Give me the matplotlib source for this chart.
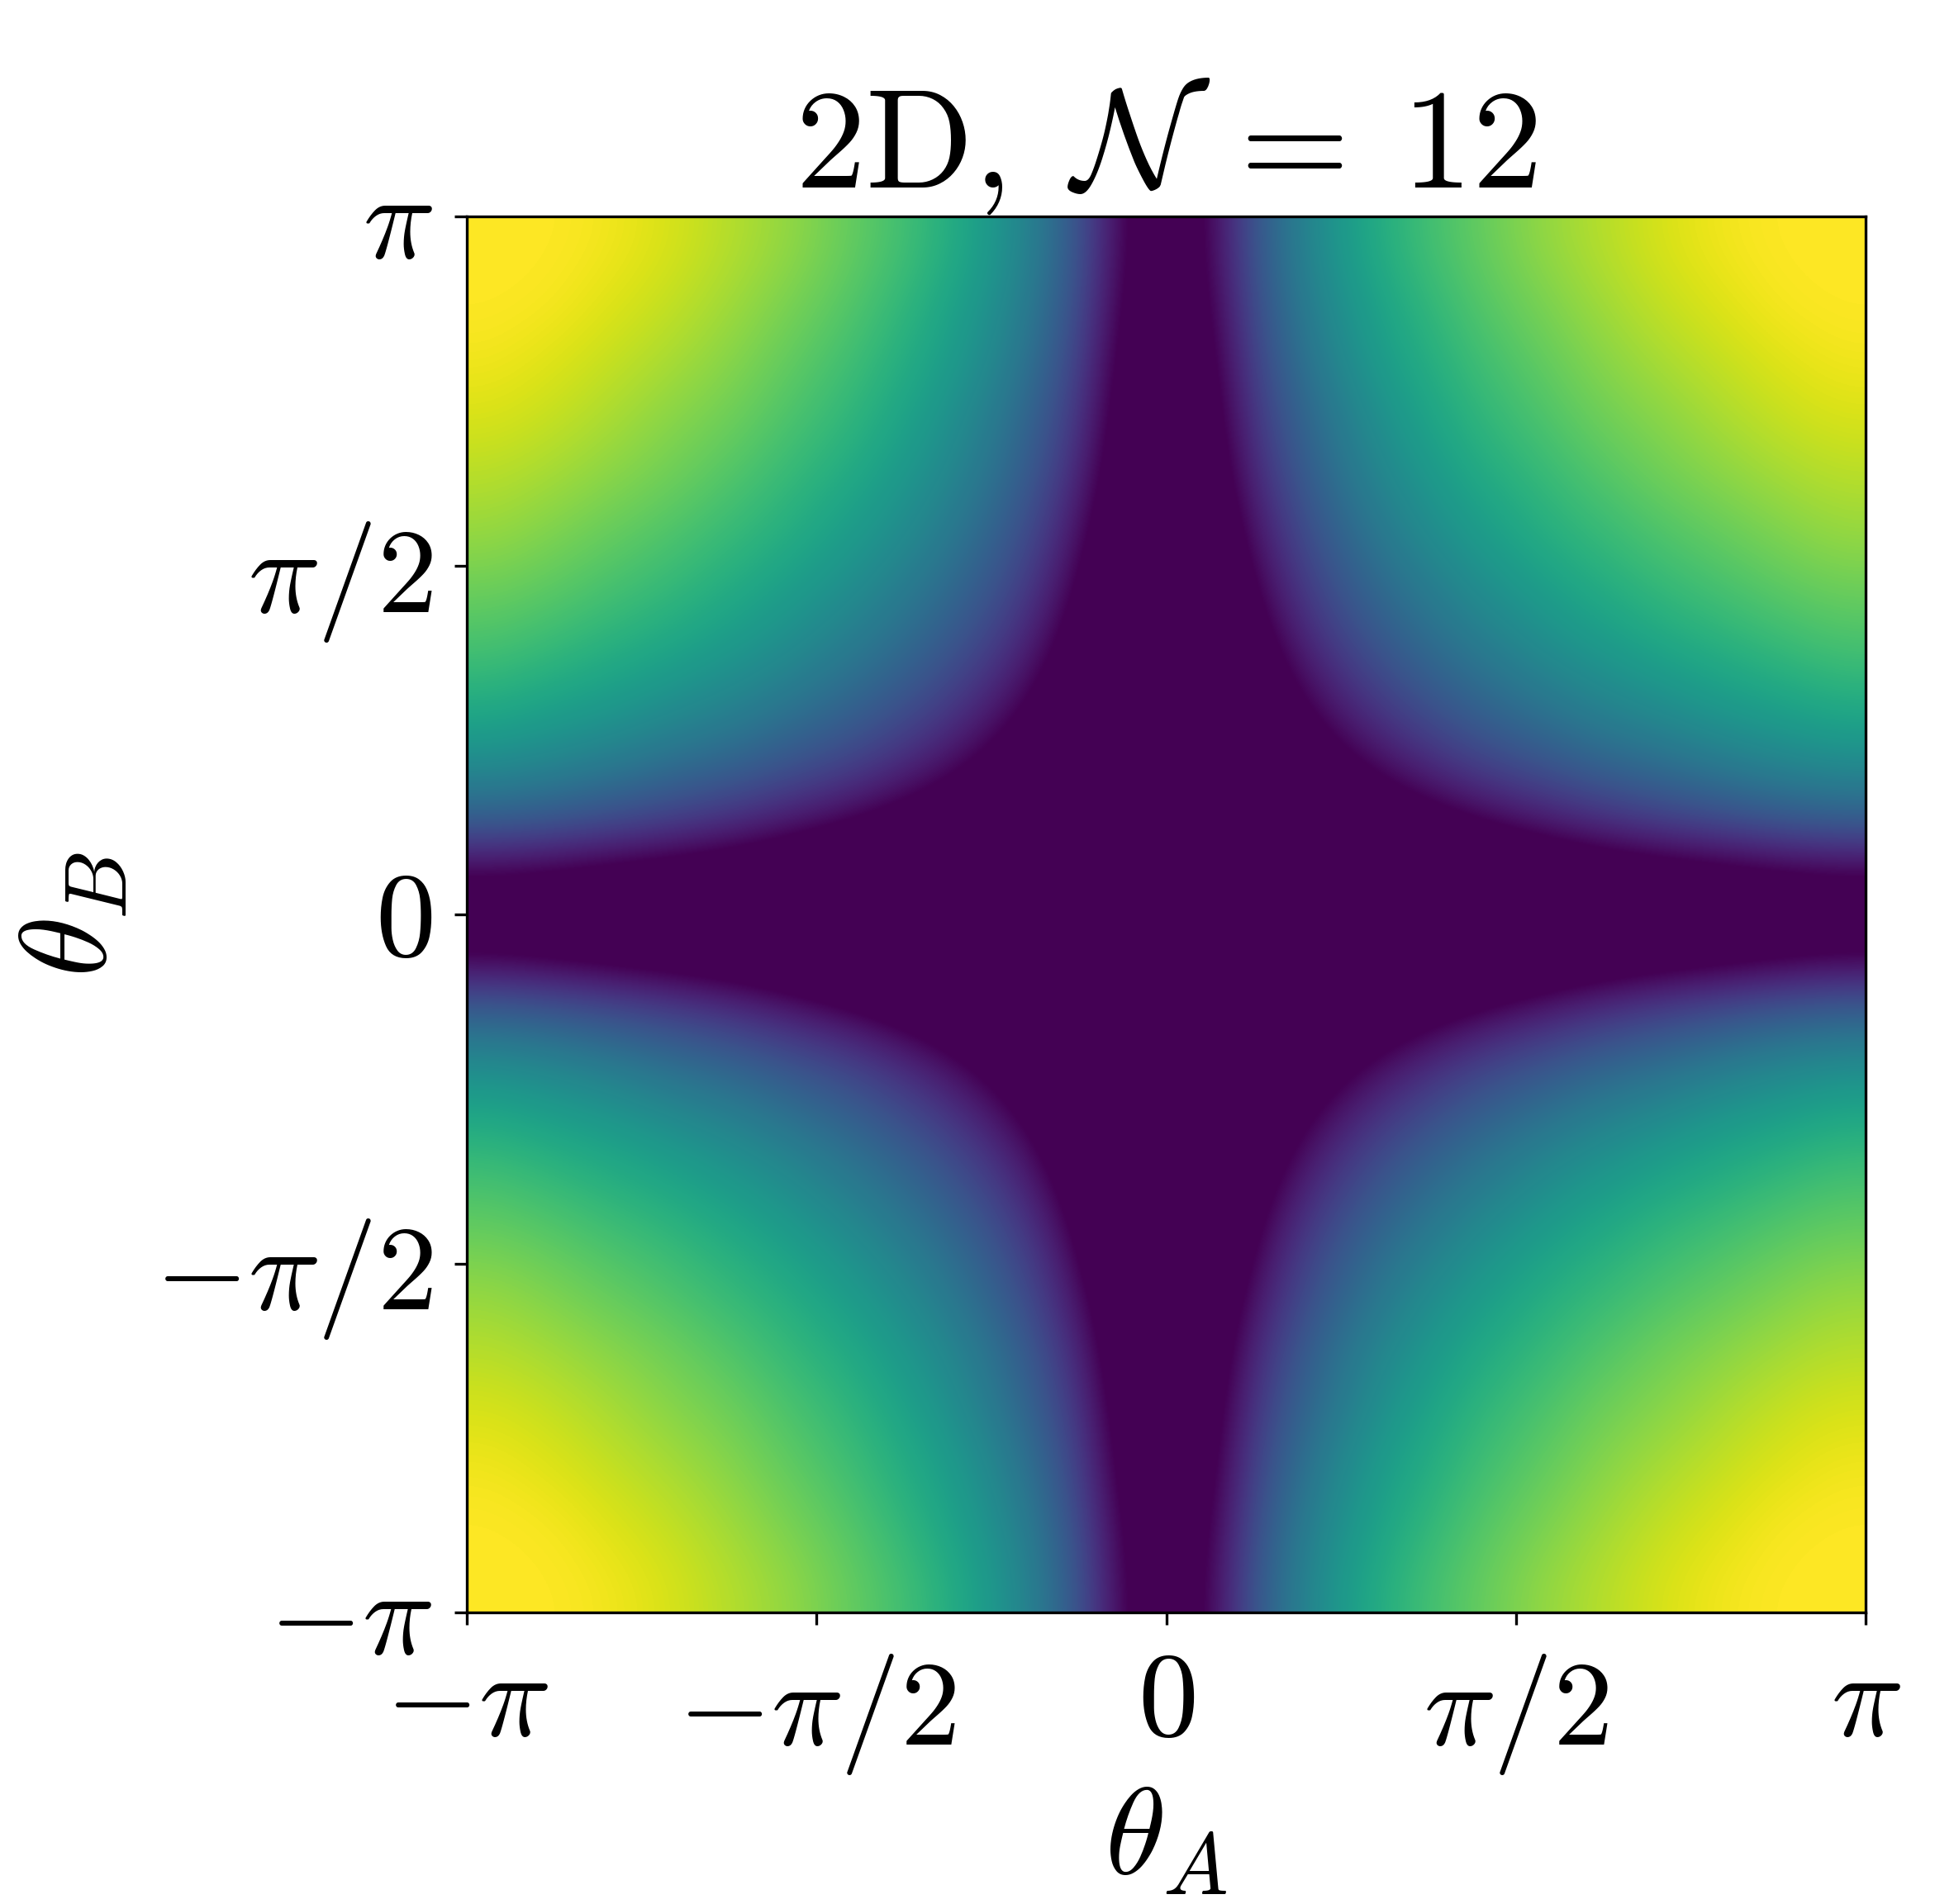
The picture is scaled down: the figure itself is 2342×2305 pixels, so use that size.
import numpy as np
import matplotlib
matplotlib.use("Agg")
import matplotlib.pyplot as plt

plt.rcParams['mathtext.fontset'] = 'cm'
plt.rcParams['font.family'] = 'serif'
plt.rcParams['font.serif'] = ['cmr10', 'DejaVu Serif']
plt.rcParams['axes.formatter.use_mathtext'] = True

# one quadrant (theta_A >= 0, theta_B >= 0),
# sampled at theta = (2k+1)*pi/24, k = 0..11 ; rows = theta_B, cols = theta_A
# (values below 0 are inside the dark plateau)
q_row0 = [-0.40, -0.40, -0.40, -0.40, -0.36, -0.30, -0.22, -0.18, -0.155, -0.13, -0.105, -0.085]
q_row1 = [-0.40, -0.40, -0.31, -0.18, -0.09, -0.01, 0.05, 0.11, 0.16, 0.20, 0.24, 0.27]
q_row2 = [-0.40, -0.31, -0.12, 0.01, 0.11, 0.19, 0.25, 0.31, 0.35, 0.40, 0.44, 0.47]
q_row3 = [-0.40, -0.18, 0.01, 0.14, 0.24, 0.32, 0.38, 0.44, 0.48, 0.53, 0.56, 0.60]
q_row4 = [-0.36, -0.09, 0.11, 0.24, 0.34, 0.41, 0.48, 0.53, 0.58, 0.62, 0.66, 0.70]
q_row5 = [-0.30, -0.01, 0.19, 0.32, 0.41, 0.49, 0.55, 0.61, 0.66, 0.70, 0.74, 0.77]
q_row6 = [-0.22, 0.05, 0.25, 0.38, 0.48, 0.55, 0.62, 0.67, 0.72, 0.76, 0.80, 0.84]
q_row7 = [-0.18, 0.11, 0.31, 0.44, 0.53, 0.61, 0.67, 0.73, 0.78, 0.82, 0.86, 0.89]
q_row8 = [-0.155, 0.16, 0.35, 0.48, 0.58, 0.66, 0.72, 0.78, 0.82, 0.87, 0.91, 0.94]
q_row9 = [-0.13, 0.20, 0.40, 0.53, 0.62, 0.70, 0.76, 0.82, 0.87, 0.91, 0.95, 0.98]
q_row10 = [-0.105, 0.24, 0.44, 0.56, 0.66, 0.74, 0.80, 0.86, 0.91, 0.95, 0.99, 1.00]
q_row11 = [-0.085, 0.27, 0.47, 0.60, 0.70, 0.77, 0.84, 0.89, 0.94, 0.98, 1.00, 1.00]

tick_pos = [-np.pi, -np.pi / 2, 0, np.pi / 2, np.pi]
tick_lab = [r'$-\pi$', r'$-\pi/2$', r'$0$', r'$\pi/2$', r'$\pi$']

Q = np.array([q_row0, q_row1, q_row2, q_row3, q_row4, q_row5,
              q_row6, q_row7, q_row8, q_row9, q_row10, q_row11])
# picture is mirror symmetric in both angles
top = np.hstack([Q[:, ::-1], Q])
full = np.vstack([top[::-1, :], top])

fig = plt.figure(figsize=(2342 / 300, 2305 / 300), dpi=300)
ax = fig.add_axes([565 / 2342, 1 - 1952 / 2305, 1693 / 2342, 1690 / 2305])
ax.imshow(full, origin='lower', extent=[-np.pi, np.pi, -np.pi, np.pi],
          cmap='viridis', vmin=0, vmax=1, interpolation='bicubic',
          interpolation_stage='data', aspect='auto')
ax.set_xticks(tick_pos)
ax.set_xticklabels(tick_lab)
ax.set_yticks(tick_pos)
ax.set_yticklabels(tick_lab)
ax.tick_params(labelsize=35)
ax.tick_params(axis='y', pad=6.5)
ax.tick_params(axis='x', pad=8)
ax.set_xlabel(r'$\theta_A$', fontsize=36, labelpad=3)
ax.set_ylabel(r'$\theta_B$', fontsize=36, labelpad=7)
ax.set_title(r'$\mathrm{2D},\;\mathcal{N}\:=\:12$', fontsize=41, pad=8)

fig.savefig('out.png', dpi=300)
